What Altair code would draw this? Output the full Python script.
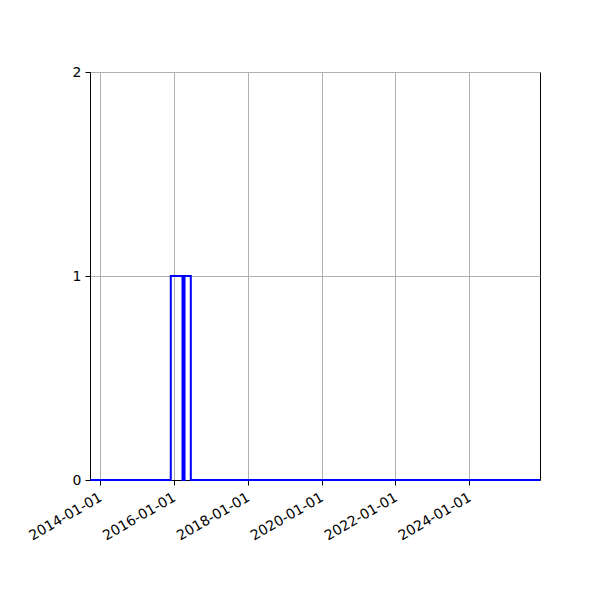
import altair as alt
import pandas as pd

# Histogram (step) bin edges and counts
bin_edges = ["2013-09-24", "2015-12-02", "2016-03-27", "2016-04-16", "2016-06-17", "2025-12-01"]
bin_counts = [0, 1, 0, 1, 0]
x_domain = ["2013-09-24", "2025-12-01"]
tick_labels = ["2014-01-01", "2016-01-01", "2018-01-01", "2020-01-01", "2022-01-01", "2024-01-01"]
y_domain = [0, 2]


def dt(s):
    y, m, d = (int(v) for v in s.split("-"))
    return alt.DateTime(year=y, month=m, date=d, utc=True)


pts_date = []
pts_val = []
for i, c in enumerate(bin_counts):
    pts_date.append(bin_edges[i])
    pts_val.append(c)
pts_date.append(bin_edges[-1])
pts_val.append(bin_counts[-1])
df = pd.DataFrame({"date": pts_date, "n": pts_val, "order": list(range(len(pts_date)))})

chart = (
    alt.Chart(df)
    .mark_line(interpolate="step-after", color="#0000ff", strokeWidth=2)
    .encode(
        x=alt.X(
            "date:T",
            title=None,
            scale=alt.Scale(type="utc", domain=[dt(x_domain[0]), dt(x_domain[1])], nice=False),
            axis=alt.Axis(
                values=[dt(s) for s in tick_labels],
                labelExpr="utcFormat(datum.value, '%Y-%m-%d')",
                labelAngle=-30,
                labelAlign="right",
                labelBaseline="top",
                labelOffset=-3,
                labelPadding=5,
                labelOverlap=False,
                grid=True,
            ),
        ),
        y=alt.Y(
            "n:Q",
            title=None,
            scale=alt.Scale(domain=y_domain, nice=False),
            axis=alt.Axis(tickCount=3, format="d", grid=True, labelPadding=4),
        ),
        order="order:Q",
    )
    .properties(
        width=450,
        height=408,
        autosize=alt.AutoSizeParams(type="none"),
        padding={"left": 82, "top": 64, "right": 52, "bottom": 112},
    )
    .configure_view(stroke="black", strokeWidth=1)
    .configure_axis(
        domainColor="black",
        domainWidth=1,
        tickColor="black",
        tickSize=5,
        tickWidth=1,
        labelColor="black",
        labelFont="DejaVu Sans",
        labelFontSize=14,
        gridColor="#b0b0b0",
        gridWidth=1,
    )
)

chart.save("out.html", embed_options={"renderer": "svg", "actions": False})
